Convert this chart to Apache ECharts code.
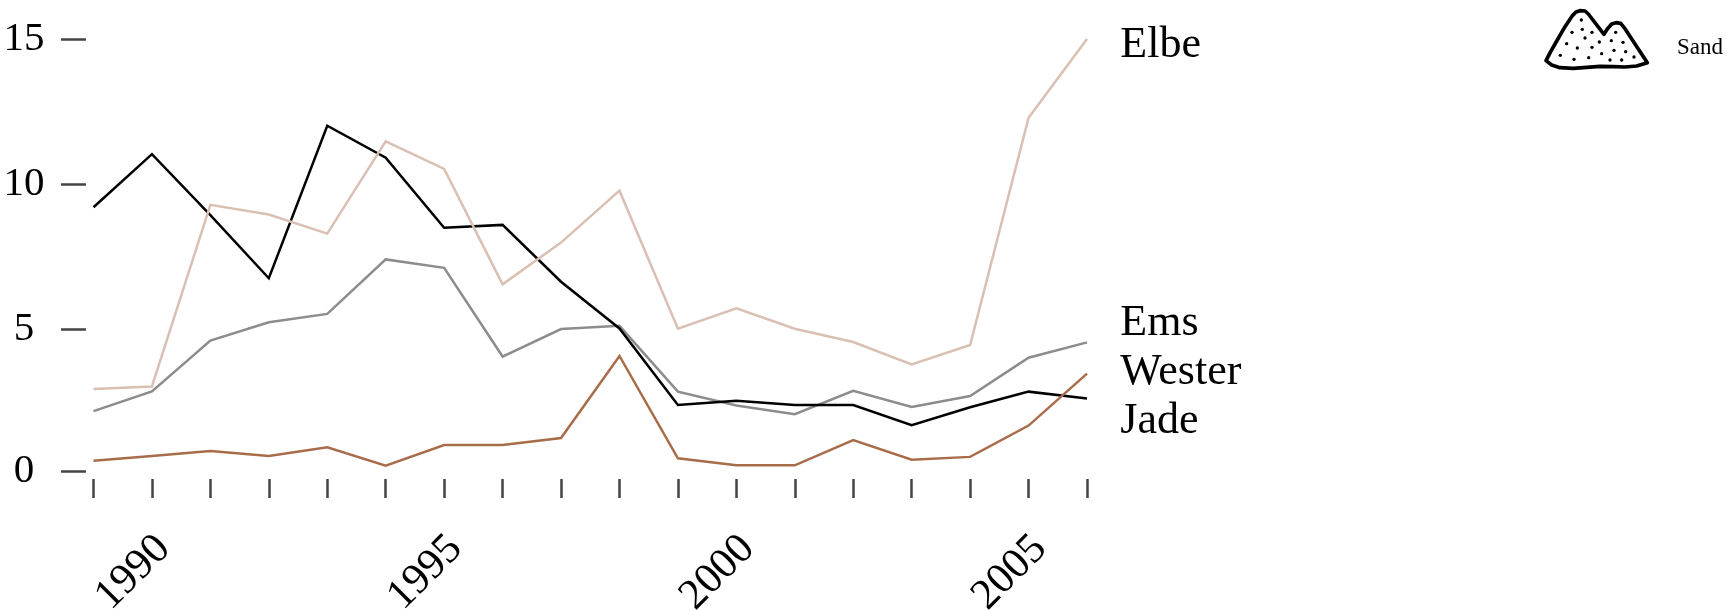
<!DOCTYPE html>
<html><head><meta charset="utf-8">
<style>html,body{margin:0;padding:0;background:#fff}#c{width:1728px;height:610px}</style>
<script src="https://cdn.jsdelivr.net/npm/echarts@6/dist/echarts.min.js"></script>
</head><body><div id="c"></div>
<script>
const years = ['1989','1990','1991','1992','1993','1994','1995','1996','1997','1998','1999','2000','2001','2002','2003','2004','2005','2006'];
const labelledYears = ['1990','1995','2000','2005'];
const yTickValues = [0.1, 5, 10, 15];
const yTickLabels = ['0', '5', '10', '15'];
const elbe   = [2.93,3.02,9.28,8.95,8.29,11.47,10.52,6.54,7.98,9.77,5.01,5.71,5.01,4.55,3.78,4.45,12.28,15];
const ems    = [2.17,2.85,4.6,5.23,5.52,7.4,7.11,4.05,5.0,5.11,2.84,2.36,2.06,2.87,2.31,2.69,4.01,4.54];
const jade   = [9.2,11.03,8.93,6.75,12.01,10.91,8.49,8.59,6.63,5.02,2.38,2.53,2.38,2.38,1.68,2.3,2.84,2.6];
const wester = [0.46,0.62,0.79,0.62,0.92,0.29,1.0,1.0,1.24,4.07,0.54,0.3,0.3,1.17,0.49,0.59,1.67,3.46];
const sandOutline = [[48,182],[62,155],[75,132],[105,80],[128,46],[138,36],[150,32],[165,33],[175,42],[222,103],[232,87],[245,72],[258,68],[272,70],[285,86],[352,188],[320,198],[285,201],[250,200],[210,199],[170,202],[130,205],[90,203],[65,195]];
const sandDots = [[154,60],[126,97],[157,88],[186,97],[165,114],[110,131],[142,144],[208,126],[186,142],[257,97],[244,122],[279,127],[252,151],[287,155],[215,161],[91,166],[132,178],[176,173],[240,180],[275,180],[312,171]];

const FONT = '"Liberation Serif", serif';
const chart = echarts.init(document.getElementById('c'), null, {renderer:'canvas'});
function line(name, data, color, offset){
  return {name, type:'line', data, symbol:'none', smooth:false, clip:false,
    lineStyle:{color, width:2.5, join:'miter'},
    endLabel:{show:true, formatter:name, fontFamily:FONT, fontSize:44, color:'#000', offset, distance:0},
    emphasis:{disabled:true}};
}
chart.setOption({
  animation:false,
  backgroundColor:'#fff',
  grid:{left:93.5, right:641, top:39, bottom:136, containLabel:false, outerBoundsMode:'none'},
  xAxis:{type:'category', data:years, boundaryGap:false, offset:5,
    axisLine:{show:false, onZero:false},
    axisTick:{show:true, length:19, interval:0, lineStyle:{color:'#444', width:2.5}},
    axisLabel:{show:true, rotate:45, margin:44.5, padding:[0,5,0,0], verticalAlign:'top', fontFamily:FONT, fontSize:43, color:'#000',
      interval:(i,v)=>labelledYears.includes(v)},
    splitLine:{show:false}},
  yAxis:{type:'value', min:0, max:15, offset:7.5,
    axisLine:{show:false, onZero:false},
    axisTick:{show:true, length:25, customValues:yTickValues, lineStyle:{color:'#444', width:2.5}},
    axisLabel:{show:true, margin:62, align:'center', customValues:yTickValues, fontFamily:FONT, fontSize:41, color:'#000',
      padding:[0,0,11,0],
      formatter:v=>yTickLabels[yTickValues.indexOf(v)]},
    splitLine:{show:false}},
  series:[
    line('Ems', ems, '#8c8c8c', [33.3,-18.7]),
    line('Jade', jade, '#000000', [33.3,22.5]),
    line('Elbe', elbe, '#d9c0b2', [33.3,6.4]),
    line('Wester', wester, '#a96c4b', [33.3,-1.5])
  ],
  graphic:[{
    type:'group', x:1530, y:0, scaleX:1/3, scaleY:1/3, silent:true,
    children:[
      {type:'polygon', shape:{points:sandOutline},
       style:{fill:'#fff', stroke:'#000', lineWidth:11, lineJoin:'round'}},
      ...sandDots.map(d=>({type:'circle', shape:{cx:d[0], cy:d[1], r:5}, style:{fill:'#000'}}))
    ]
  },{
    type:'text', x:1677, y:48, silent:true,
    style:{text:'Sand', fontFamily:FONT, fontSize:23, fill:'#000', textAlign:'left', textVerticalAlign:'middle'}
  }]
});
</script></body></html>
